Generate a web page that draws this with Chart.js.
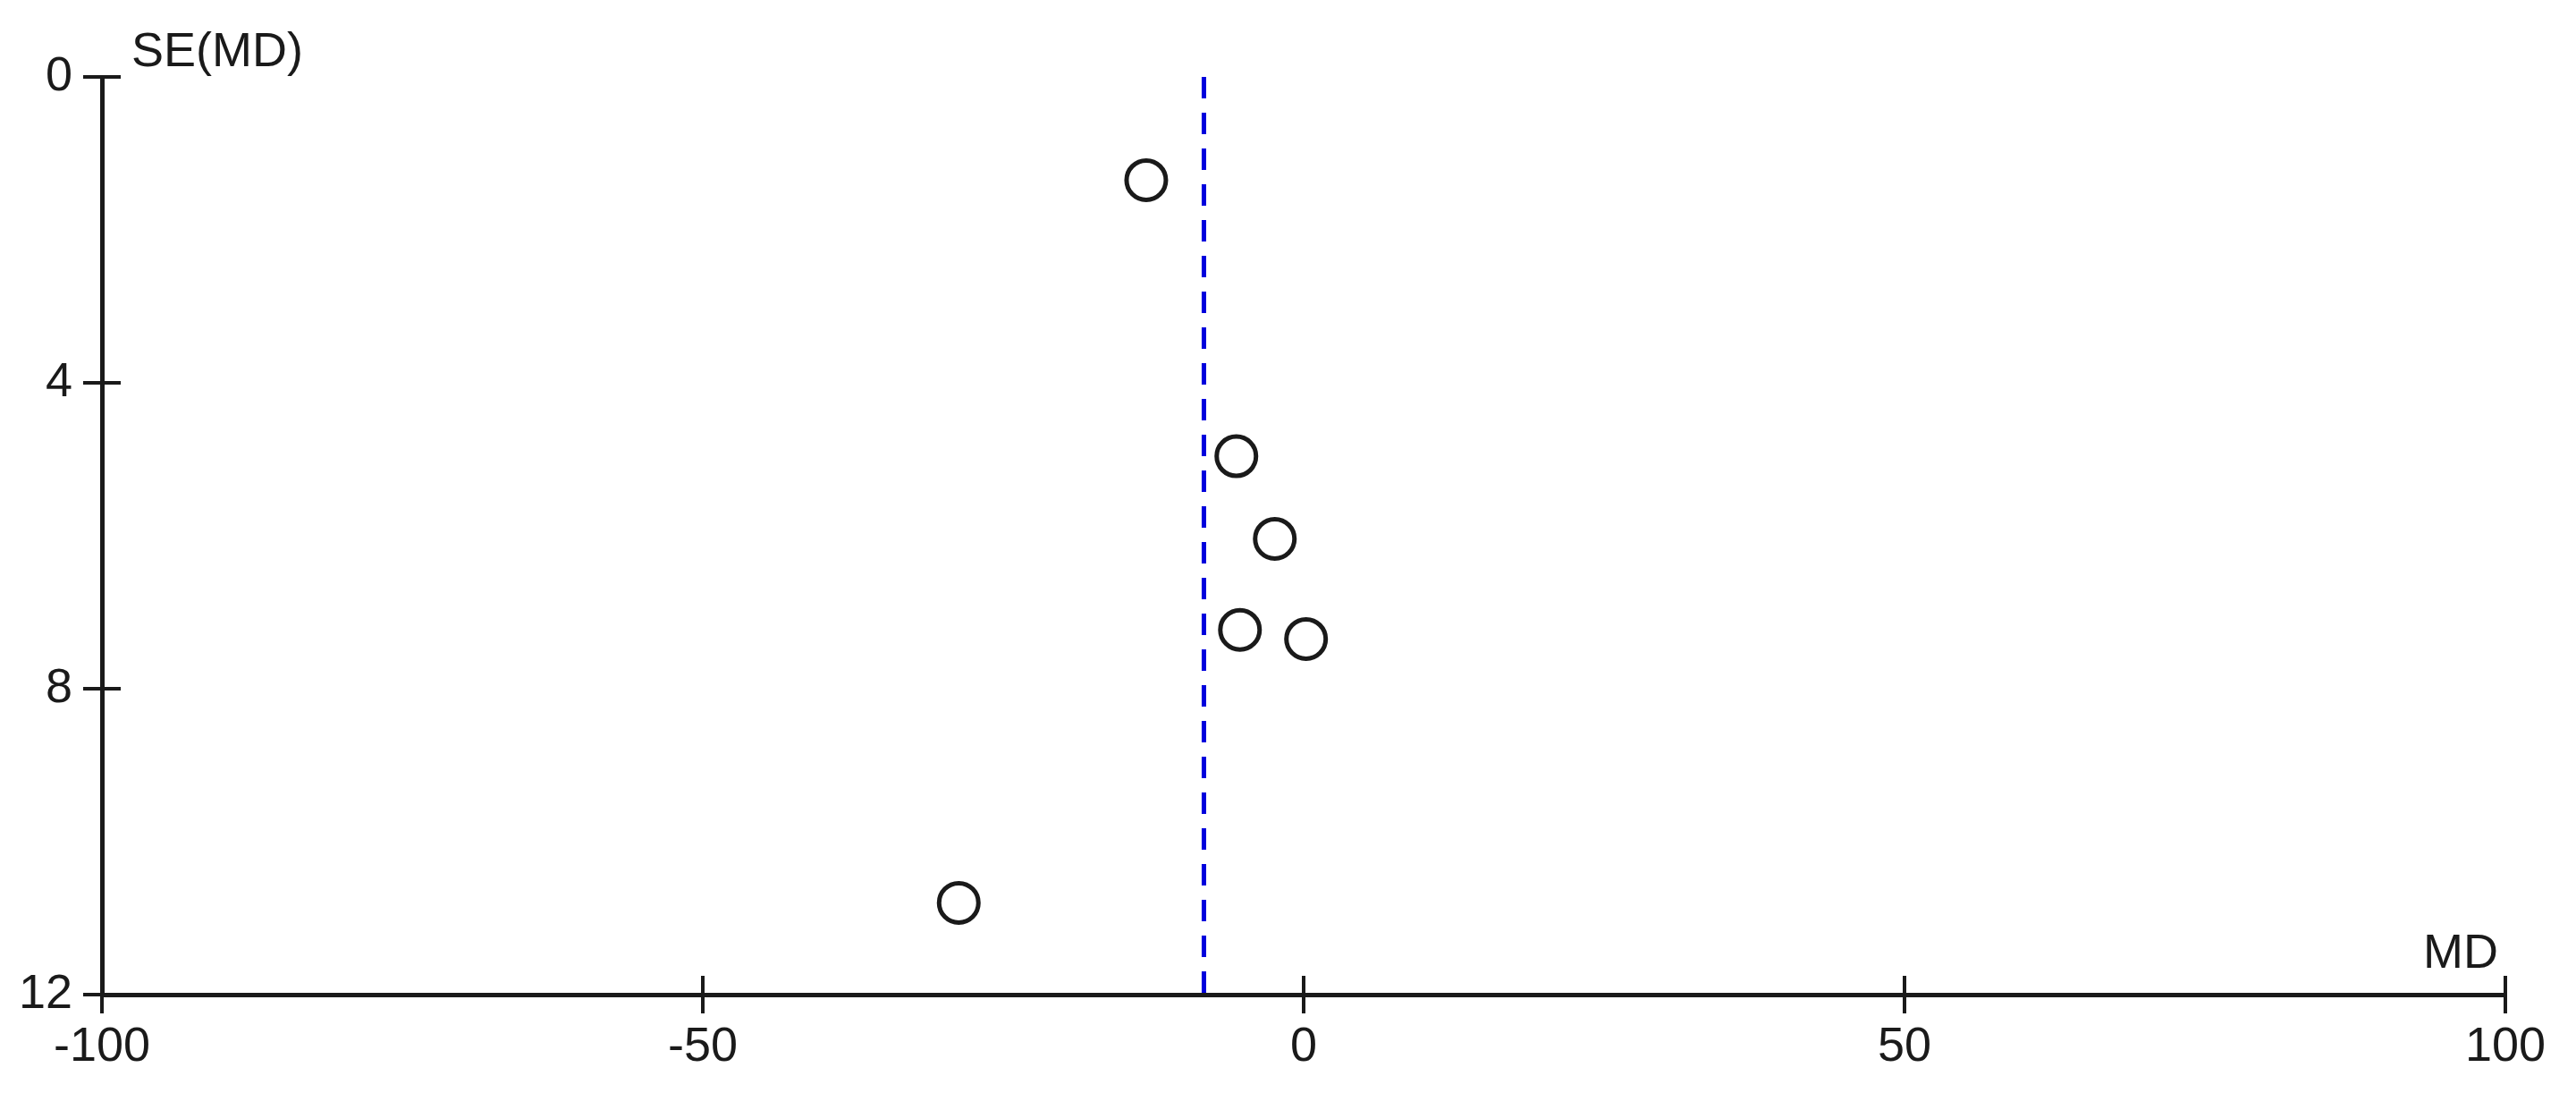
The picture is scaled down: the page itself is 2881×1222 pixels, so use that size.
<!DOCTYPE html>
<html>
<head>
<meta charset="utf-8">
<script src="https://cdn.jsdelivr.net/npm/chart.js@4"></script>
<style>
  html, body { margin: 0; padding: 0; background: #fff; }
  #wrap { width: 2881px; height: 1222px; }
</style>
</head>
<body>
<div id="wrap"><canvas id="funnel"></canvas></div>
<script>
// Funnel plot data: mean difference vs its standard error
const mdValues = [-13.1, -5.6, -2.4, -5.3, 0.2, -28.7];
const seValues = [1.35, 4.96, 6.04, 7.23, 7.35, 10.8];
const pooledMd = -8.3;
const seRange = [0, 12];
const xTicks = [-100, -50, 0, 50, 100];
const yTicks = [0, 4, 8, 12];

const ink = "#1a1a1a";
const fontFamily = "'Liberation Sans', Arial, sans-serif";
const fontSize = 54;

const studyPoints = mdValues.map((md, i) => ({ x: md, y: seValues[i] }));
const pooledLine = seRange.map((se) => ({ x: pooledMd, y: se }));

// Tick marks that cross the axis line, plus the two axis captions
const axisDecor = {
  id: "axisDecor",
  afterDraw(chart) {
    const { ctx, chartArea, scales } = chart;
    const half = 21;
    ctx.save();
    ctx.strokeStyle = ink;
    ctx.lineWidth = 4;
    ctx.beginPath();
    xTicks.forEach((v) => {
      const px = scales.x.getPixelForValue(v);
      ctx.moveTo(px, chartArea.bottom - half);
      ctx.lineTo(px, chartArea.bottom + half);
    });
    yTicks.forEach((v) => {
      const py = scales.y.getPixelForValue(v);
      ctx.moveTo(chartArea.left - half, py);
      ctx.lineTo(chartArea.left + half, py);
    });
    ctx.stroke();

    ctx.fillStyle = ink;
    ctx.font = fontSize + "px " + fontFamily;
    ctx.textBaseline = "alphabetic";
    ctx.textAlign = "left";
    ctx.fillText("SE(MD)", chartArea.left + 33, chartArea.top - 12);
    ctx.textAlign = "right";
    ctx.fillText("MD", chartArea.right - 8, chartArea.bottom - 30);
    ctx.restore();
  },
};

new Chart(document.getElementById("funnel"), {
  type: "scatter",
  data: {
    datasets: [
      {
        label: "Studies",
        data: studyPoints,
        pointRadius: 22,
        pointHoverRadius: 22,
        pointBorderWidth: 5,
        pointBorderColor: ink,
        pointBackgroundColor: "#ffffff",
        order: 1,
      },
      {
        label: "Pooled MD",
        type: "line",
        data: pooledLine,
        borderColor: "#0000dd",
        borderWidth: 5,
        borderDash: [24, 16],
        pointRadius: 0,
        fill: false,
        order: 2,
      },
    ],
  },
  options: {
    responsive: true,
    maintainAspectRatio: false,
    animation: false,
    layout: { padding: { top: 86, right: 79, left: 0, bottom: 0 } },
    plugins: {
      legend: { display: false },
      tooltip: { enabled: false },
    },
    scales: {
      x: {
        type: "linear",
        min: -100,
        max: 100,
        afterBuildTicks: (scale) => {
          scale.ticks = xTicks.map((v) => ({ value: v }));
        },
        afterFit: (scale) => {
          scale.height = 110;
        },
        border: { display: true, color: ink, width: 5 },
        grid: { drawOnChartArea: false, drawTicks: true, tickLength: 21, color: ink, lineWidth: 4 },
        ticks: { color: ink, padding: 6, maxRotation: 0, font: { family: fontFamily, size: fontSize } },
      },
      y: {
        type: "linear",
        reverse: true,
        min: seRange[0],
        max: seRange[1],
        afterBuildTicks: (scale) => {
          scale.ticks = yTicks.map((v) => ({ value: v }));
        },
        afterFit: (scale) => {
          scale.width = 114;
        },
        border: { display: true, color: ink, width: 5 },
        grid: { drawOnChartArea: false, drawTicks: true, tickLength: 21, color: ink, lineWidth: 4 },
        ticks: { color: ink, padding: 12, font: { family: fontFamily, size: fontSize } },
      },
    },
  },
  plugins: [axisDecor],
});
</script>
</body>
</html>
